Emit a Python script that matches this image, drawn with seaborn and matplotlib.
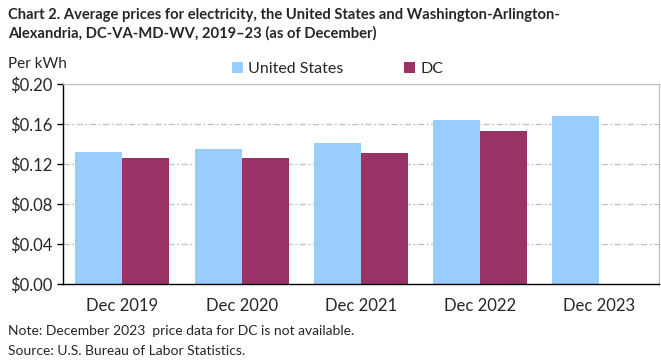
import numpy as np
import pandas as pd
import matplotlib
matplotlib.use("Agg")
import matplotlib.pyplot as plt
import seaborn as sns
from matplotlib.ticker import FuncFormatter
from matplotlib.patches import Patch

categories = ["Dec 2019", "Dec 2020", "Dec 2021", "Dec 2022", "Dec 2023"]
us_values = [0.132, 0.135, 0.141, 0.164, 0.168]
dc_values = [0.126, 0.126, 0.131, 0.153, np.nan]
series_names = ["United States", "DC"]
colors = ["#99CCFF", "#993366"]

df = pd.DataFrame({
    "period": categories * 2,
    "price": us_values + dc_values,
    "series": [series_names[0]] * 5 + [series_names[1]] * 5,
})

sns.set_style("white")
plt.rcParams["font.family"] = ["Lato", "DejaVu Sans"]

fig = plt.figure(figsize=(6.61, 3.60), dpi=100)
ax = fig.add_axes([0.0949, 0.2111, 0.9021, 0.5547])

sns.barplot(data=df, x="period", y="price", hue="series", order=categories,
            hue_order=series_names, palette=colors, width=0.79, gap=0,
            saturation=1, ax=ax, legend=False, errorbar=None, linewidth=0,
            edgecolor="none")

ax.set_ylim(0, 0.20)
ax.set_xlim(-0.5, 4.5)
ax.set_yticks(np.arange(0, 0.201, 0.04))
ax.yaxis.set_major_formatter(FuncFormatter(lambda v, p: f"${v:.2f}"))
ax.set_xlabel("")
ax.set_ylabel("")
for y in [0.04, 0.08, 0.12, 0.16]:
    ax.axhline(y, color="#BFBFBF", lw=0.9, ls=(0, (5, 2, 1.5, 2)), zorder=0)
ax.set_axisbelow(True)

for s in ["top", "right"]:
    ax.spines[s].set_visible(True)
    ax.spines[s].set_color("#BFBFBF")
    ax.spines[s].set_linewidth(0.9)
for s in ["left", "bottom"]:
    ax.spines[s].set_color("black")
    ax.spines[s].set_linewidth(1.0)

ax.tick_params(axis="y", which="major", length=4, width=1, color="black",
               direction="out", left=True, labelsize=12, pad=3)
ax.tick_params(axis="x", length=0, labelsize=12, pad=10)

fig.text(0.012, 0.978,
         "Chart 2. Average prices for electricity, the United States and Washington-Arlington-\n"
         "Alexandria, DC-VA-MD-WV, 2019\u201323 (as of December)",
         ha="left", va="top", fontsize=10.6, fontweight="bold", linespacing=1.32)
fig.text(0.012, 0.822, "Per kWh", ha="left", va="center", fontsize=11)

handles = [Patch(facecolor=c, edgecolor="none") for c in colors]
fig.legend(handles, series_names, loc="center", bbox_to_anchor=(0.511, 0.808),
           ncol=2, frameon=False, fontsize=11.5, handlelength=0.65, handleheight=0.65,
           columnspacing=3.8, handletextpad=0.35)

fig.text(0.012, 0.08, "Note: December 2023  price data for DC is not available.",
         ha="left", va="center", fontsize=10)
fig.text(0.012, 0.024, "Source: U.S. Bureau of Labor Statistics.",
         ha="left", va="center", fontsize=10)

fig.savefig("out.png", dpi=100)
